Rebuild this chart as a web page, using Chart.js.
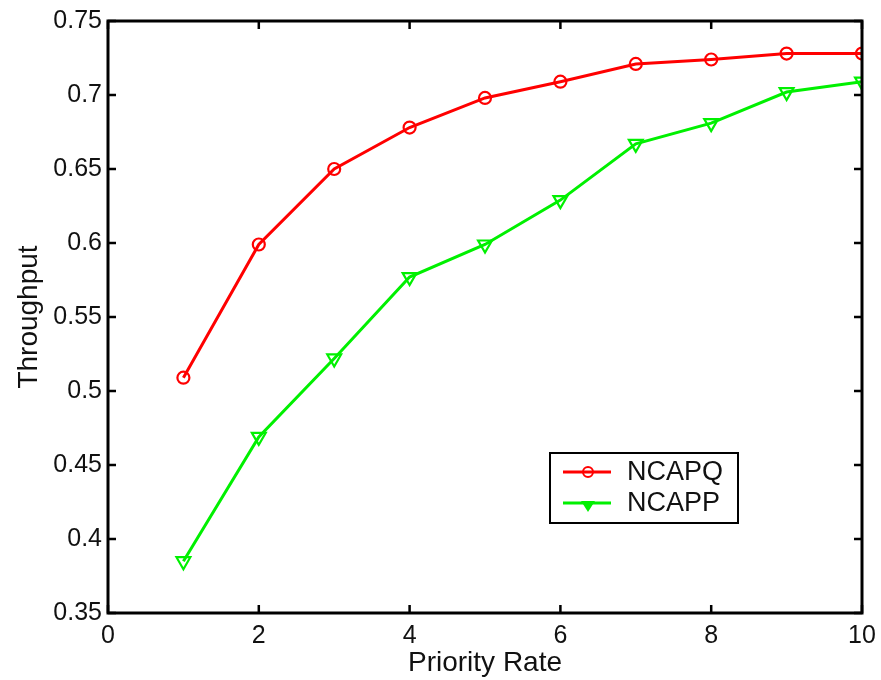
<!DOCTYPE html>
<html>
<head>
<meta charset="utf-8">
<script src="https://cdn.jsdelivr.net/npm/chart.js@4"></script>
<style>
  html, body { margin: 0; padding: 0; background: #fff; }
  #wrap { width: 881px; height: 680px; }
</style>
</head>
<body>
<div id="wrap"><canvas id="chart" width="881" height="680"></canvas></div>
<script>
const priorityRates = [1, 2, 3, 4, 5, 6, 7, 8, 9, 10];
const ncapq = [0.509, 0.599, 0.650, 0.678, 0.698, 0.709, 0.721, 0.724, 0.728, 0.728];
const ncapp = [0.385, 0.469, 0.522, 0.577, 0.599, 0.629, 0.667, 0.681, 0.702, 0.709];
const xTicks = [0, 2, 4, 6, 8, 10];
const yTicks = [0.35, 0.4, 0.45, 0.5, 0.55, 0.6, 0.65, 0.7, 0.75];

const FONT = '"Liberation Sans", Arial, sans-serif';

// matlab style box with inward ticks + legend inside the axes
const matlabBox = {
  id: 'matlabBox',
  afterDatasetsDraw(chart) {
    const { ctx, chartArea: a, scales } = chart;
    ctx.save();
    ctx.strokeStyle = '#000';
    ctx.lineWidth = 3;
    ctx.strokeRect(a.left, a.top, a.right - a.left, a.bottom - a.top);
    ctx.lineWidth = 2.5;
    const len = 8;
    xTicks.forEach((v) => {
      const x = scales.x.getPixelForValue(v);
      ctx.beginPath();
      ctx.moveTo(x, a.bottom); ctx.lineTo(x, a.bottom - len);
      ctx.moveTo(x, a.top); ctx.lineTo(x, a.top + len);
      ctx.stroke();
    });
    yTicks.forEach((v) => {
      const y = scales.y.getPixelForValue(v);
      ctx.beginPath();
      ctx.moveTo(a.left, y); ctx.lineTo(a.left + len, y);
      ctx.moveTo(a.right, y); ctx.lineTo(a.right - len, y);
      ctx.stroke();
    });

    // legend
    const lx = 550, ly = 453, lw = 188, lh = 70;
    ctx.fillStyle = '#fff';
    ctx.fillRect(lx, ly, lw, lh);
    ctx.strokeStyle = '#000';
    ctx.lineWidth = 2;
    ctx.strokeRect(lx, ly, lw, lh);
    ctx.font = '27px ' + FONT;
    ctx.textBaseline = 'middle';
    chart.data.datasets.forEach((ds, i) => {
      const yy = ly + 19 + i * 31;
      ctx.strokeStyle = ds.borderColor;
      ctx.lineWidth = 3;
      ctx.beginPath();
      ctx.moveTo(lx + 13, yy); ctx.lineTo(lx + 61, yy);
      ctx.stroke();
      ctx.lineWidth = 2;
      const mx = lx + 38;
      if (ds.pointStyle === 'circle') {
        ctx.beginPath();
        ctx.arc(mx, yy, 5, 0, Math.PI * 2);
        ctx.stroke();
      } else {
        ctx.fillStyle = ds.borderColor;
        ctx.beginPath();
        ctx.moveTo(mx - 7, yy - 2); ctx.lineTo(mx + 7, yy - 2); ctx.lineTo(mx, yy + 9);
        ctx.closePath();
        ctx.fill();
      }
      ctx.fillStyle = '#111';
      ctx.fillText(ds.label, lx + 77, yy + 1);
    });
    ctx.restore();
  }
};

new Chart(document.getElementById('chart'), {
  type: 'line',
  data: {
    datasets: [
      {
        label: 'NCAPQ',
        data: priorityRates.map((x, i) => ({ x, y: ncapq[i] })),
        borderColor: '#ff0000',
        backgroundColor: 'rgba(0,0,0,0)',
        borderWidth: 3,
        pointStyle: 'circle',
        pointRadius: 6,
        pointBorderWidth: 2.2,
        tension: 0
      },
      {
        label: 'NCAPP',
        data: priorityRates.map((x, i) => ({ x, y: ncapp[i] })),
        borderColor: '#00f000',
        backgroundColor: 'rgba(0,0,0,0)',
        borderWidth: 3,
        pointStyle: 'triangle',
        pointRotation: 180,
        pointRadius: 8,
        pointBorderWidth: 2.2,
        tension: 0
      }
    ]
  },
  options: {
    responsive: false,
    animation: false,
    layout: { padding: { top: 21, right: 19, left: 0, bottom: 0 } },
    plugins: { legend: { display: false }, tooltip: { enabled: false } },
    scales: {
      x: {
        type: 'linear',
        min: 0,
        max: 10,
        afterBuildTicks: (s) => { s.ticks = xTicks.map((v) => ({ value: v })); },
        afterFit: (s) => { s.height = 67; s.paddingLeft = 0; s.paddingRight = 0; },
        grid: { display: false, drawTicks: false },
        border: { display: false },
        ticks: { font: { family: FONT, size: 25 }, color: '#111', padding: 8, maxRotation: 0 },
        title: { display: true, text: 'Priority Rate', font: { family: FONT, size: 28 }, color: '#111', padding: { top: 0, bottom: 0 } }
      },
      y: {
        min: 0.35,
        max: 0.75,
        afterBuildTicks: (s) => { s.ticks = yTicks.map((v) => ({ value: v })); },
        afterFit: (s) => { s.width = 108; s.paddingTop = 0; s.paddingBottom = 0; },
        grid: { display: false, drawTicks: false },
        border: { display: false },
        ticks: { font: { family: FONT, size: 25 }, color: '#111', padding: 6, callback: (v) => String(+v.toFixed(2)) },
        title: { display: true, text: 'Throughput', font: { family: FONT, size: 28 }, color: '#111', padding: { top: 12, bottom: 0 } }
      }
    }
  },
  plugins: [matlabBox]
});
</script>
</body>
</html>
